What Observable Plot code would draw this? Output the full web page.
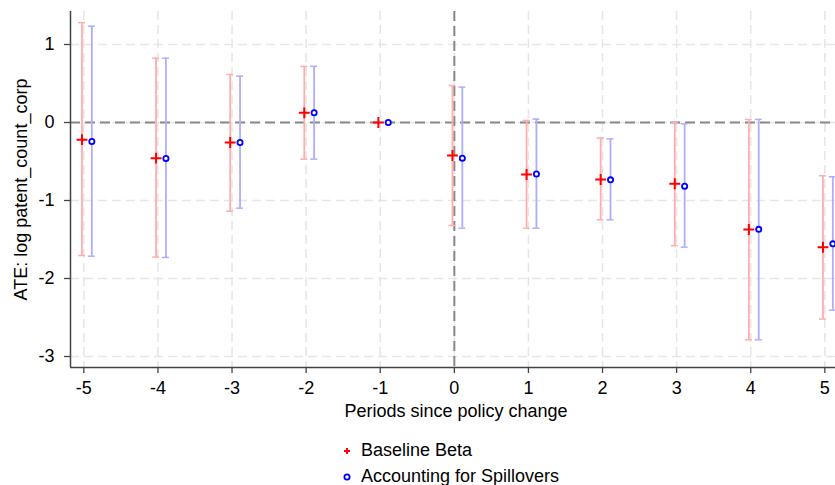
<!DOCTYPE html>
<html>
<head>
<meta charset="utf-8">
<script src="https://cdn.jsdelivr.net/npm/d3@7"></script>
<script src="https://cdn.jsdelivr.net/npm/@observablehq/plot@0.6"></script>
<style>
  html, body { margin: 0; padding: 0; background: #fff; }
  body { position: relative; width: 835px; height: 485px; overflow: hidden;
         font-family: "Liberation Sans", Arial, Helvetica, sans-serif; }
  #legend { position: absolute; left: 0; top: 0; width: 835px; height: 485px; pointer-events: none; }
  .item { position: absolute; left: 340px; display: flex; align-items: center; font-size: 18px; color: #000; }
  .item svg { width: 14px; height: 14px; margin-right: 7px; }
</style>
</head>
<body>
<div id="chart"></div>
<div id="legend"></div>
<script>
// Event-study estimates: periods relative to the policy change
const periods = [-5, -4, -3, -2, -1, 0, 1, 2, 3, 4, 5];

// Baseline beta: point estimate and 95% interval bounds
const baseEst = [-0.22, -0.457, -0.256, 0.124, 0, -0.423, -0.667, -0.73, -0.786, -1.372, -1.60];
const baseLo  = [-1.705, -1.726, -1.137, -0.47, 0, -1.32, -1.355, -1.248, -1.58, -2.786, -2.52];
const baseHi  = [1.28, 0.825, 0.615, 0.718, 0, 0.474, 0.026, -0.2, -0.004, 0.038, -0.683];

// Estimates accounting for spillovers
const spillEst = [-0.244, -0.46, -0.256, 0.124, 0, -0.457, -0.66, -0.735, -0.816, -1.37, -1.556];
const spillLo  = [-1.714, -1.73, -1.098, -0.47, 0, -1.355, -1.355, -1.248, -1.598, -2.786, -2.406];
const spillHi  = [1.235, 0.825, 0.594, 0.72, 0, 0.453, 0.043, -0.21, -0.017, 0.04, -0.696];

const yTicks = [-3, -2, -1, 0, 1];
const seriesNames = ["Baseline Beta", "Accounting for Spillovers"];

// horizontal dodge of each series around its period, and half-width of CI caps
const dodge = [-0.025, 0.108];
const capHalf = 0.047;

const xDomain = [-5.18, 5.144];
const yDomain = [-3.141, 1.423];

const rows = [];
periods.forEach((p, i) => {
  rows.push({series: seriesNames[0], x: p + dodge[0], est: baseEst[i], lo: baseLo[i], hi: baseHi[i]});
  rows.push({series: seriesNames[1], x: p + dodge[1], est: spillEst[i], lo: spillLo[i], hi: spillHi[i]});
});
const base = rows.filter(d => d.series === seriesNames[0]);
const spill = rows.filter(d => d.series === seriesNames[1]);
const withCI = arr => arr.filter(d => d.hi > d.lo);

const ciBase = "#ffadad";
const ciSpill = "#adadff";
const gridColor = "#e6e6e6";
const axisColor = "#444";

function ciMarks(data, color) {
  return [
    Plot.ruleX(withCI(data), {x: "x", y1: "lo", y2: "hi", stroke: color, strokeWidth: 1.8}),
    Plot.ruleY(withCI(data), {y: "hi", x1: d => d.x - capHalf, x2: d => d.x + capHalf, stroke: color, strokeWidth: 1.5}),
    Plot.ruleY(withCI(data), {y: "lo", x1: d => d.x - capHalf, x2: d => d.x + capHalf, stroke: color, strokeWidth: 1.5})
  ];
}

const chart = Plot.plot({
  width: 835,
  height: 425,
  marginLeft: 70,
  marginRight: 0,
  marginTop: 11,
  marginBottom: 58,
  style: {fontFamily: "'Liberation Sans', Arial, Helvetica, sans-serif", fontSize: "18px", background: "#fff", color: "#000"},
  x: {domain: xDomain},
  y: {domain: yDomain},
  marks: [
    // dashed background grid
    Plot.ruleX(periods, {stroke: gridColor, strokeWidth: 1.5, strokeDasharray: "9,5"}),
    Plot.ruleY(yTicks, {stroke: gridColor, strokeWidth: 1.5, strokeDasharray: "9,5"}),
    // reference lines at zero effect and at the policy change
    Plot.ruleY([0], {stroke: "#888", strokeWidth: 2, strokeDasharray: "10,5"}),
    Plot.ruleX([0], {stroke: "#888", strokeWidth: 2, strokeDasharray: "10,5"}),
    // confidence intervals
    ...ciMarks(base, ciBase),
    ...ciMarks(spill, ciSpill),
    // point estimates
    Plot.dot(base, {x: "x", y: "est", symbol: "plus", r: 3.6, stroke: "#ff0000", strokeWidth: 2}),
    Plot.dot(spill, {x: "x", y: "est", symbol: "circle", r: 2.6, stroke: "#0000ff", fill: "#fff", strokeWidth: 1.8}),
    // axes
    Plot.axisX(periods, {tickSize: 6, tickPadding: 8, tickFormat: d => String(d), stroke: axisColor, strokeWidth: 1.3, label: null, fontSize: 18}),
    Plot.axisY(yTicks, {tickSize: 6, tickPadding: 10, tickFormat: d => String(d), stroke: axisColor, strokeWidth: 1.3, label: null, fontSize: 18}),
    Plot.ruleY([yDomain[0]], {stroke: axisColor, strokeWidth: 1.5}),
    Plot.ruleX([xDomain[0]], {stroke: axisColor, strokeWidth: 1.5}),
    // axis titles
    Plot.text(["Periods since policy change"], {frameAnchor: "bottom", dy: 44, dx: 3, textAnchor: "middle", lineAnchor: "middle", fontSize: 18, fill: "#000"}),
    Plot.text(["ATE: log patent_count_corp"], {frameAnchor: "left", dx: -49, rotate: -90, textAnchor: "middle", lineAnchor: "middle", fontSize: 18, fill: "#000"})
  ]
});
document.getElementById("chart").appendChild(chart);

// legend below the plot
const legend = document.getElementById("legend");
const legendItems = [
  {name: seriesNames[0], top: 440, svg: '<svg viewBox="-7 -7 14 14"><path d="M-3,0H3M0,-3V3" stroke="#ff0000" stroke-width="2" fill="none"/></svg>'},
  {name: seriesNames[1], top: 466, svg: '<svg viewBox="-7 -7 14 14"><circle r="2.6" stroke="#0000ff" stroke-width="1.8" fill="#fff"/></svg>'}
];
legendItems.forEach(it => {
  const div = document.createElement("div");
  div.className = "item";
  div.style.top = it.top + "px";
  div.innerHTML = it.svg + "<span>" + it.name + "</span>";
  legend.appendChild(div);
});
</script>
</body>
</html>
